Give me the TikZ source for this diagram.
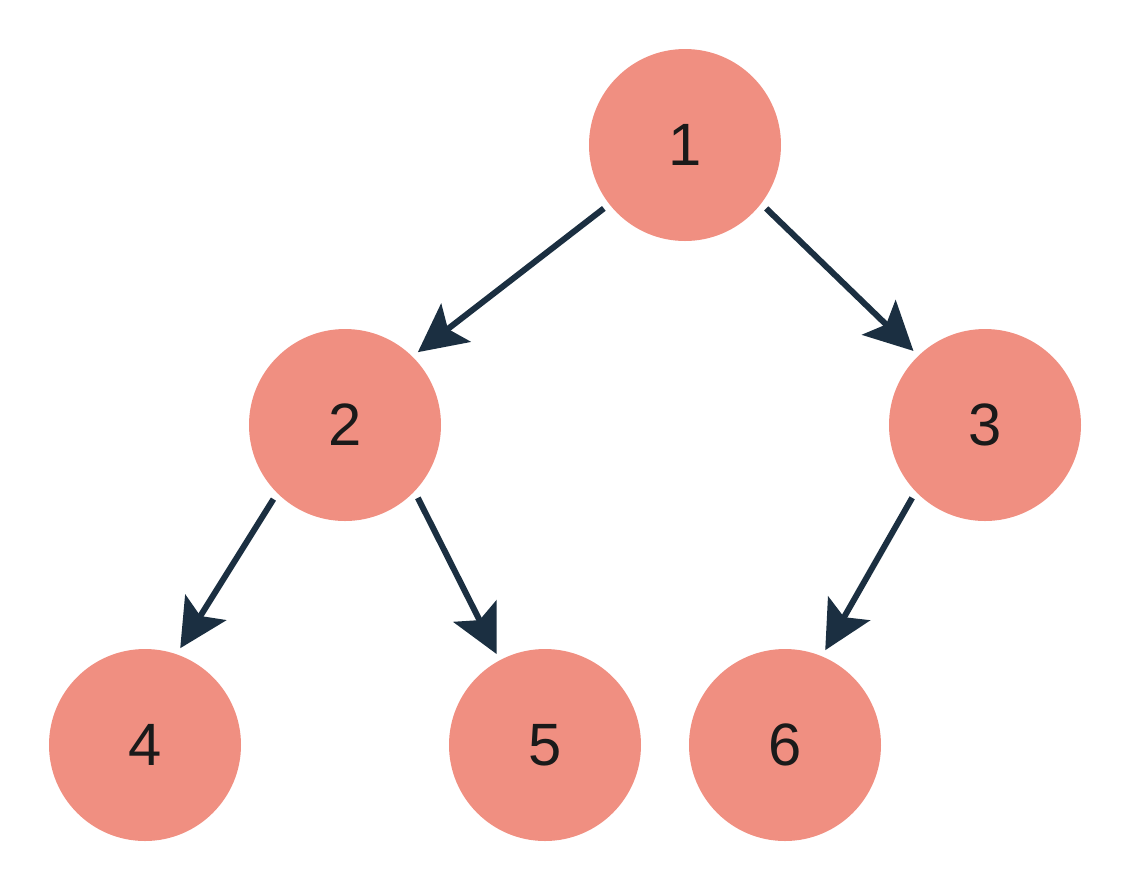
\documentclass[tikz,border=0pt]{standalone}
\usepackage{fontspec}
\setmainfont{Liberation Sans}
\usepackage{tikz}
\usetikzlibrary{arrows.meta}
\usepackage{xcolor}
\definecolor{nodefill}{HTML}{F08F81}
\definecolor{edgecol}{HTML}{1B2F41}
\definecolor{labelcol}{HTML}{1A1A1A}

\begin{document}
\begin{tikzpicture}[
		vertex/.style={circle, fill=nodefill, minimum size=1.92cm, inner sep=0pt, outer sep=0.07cm, text=labelcol, font=\fontsize{17}{20}\selectfont},
		edge/.style={draw=edgecol, line width=0.06cm, -{Stealth[length=0.48cm, width=0.48cm, inset=0.1cm]}}
	]
			\useasboundingbox (0,0) rectangle (11.28,-8.88);
			
			\node[vertex] (n1) at (6.85,-1.45) {1};
			\node[vertex] (n2) at (3.45,-4.25) {2};
			\node[vertex] (n3) at (9.85,-4.25) {3};
			\node[vertex] (n4) at (1.45,-7.45) {4};
			\node[vertex] (n5) at (5.45,-7.45) {5};
			\node[vertex] (n6) at (7.85,-7.45) {6};
			
			\draw[edge] (n1.218) -- (n2.45);
			\draw[edge] (n1.322) -- (n3.134);
			\draw[edge] (n2.226) -- (n4.70);
			\draw[edge] (n2.315) -- (n5.118);
			\draw[edge] (n3.225) -- (n6.67);
		\end{tikzpicture}
\end{document}
